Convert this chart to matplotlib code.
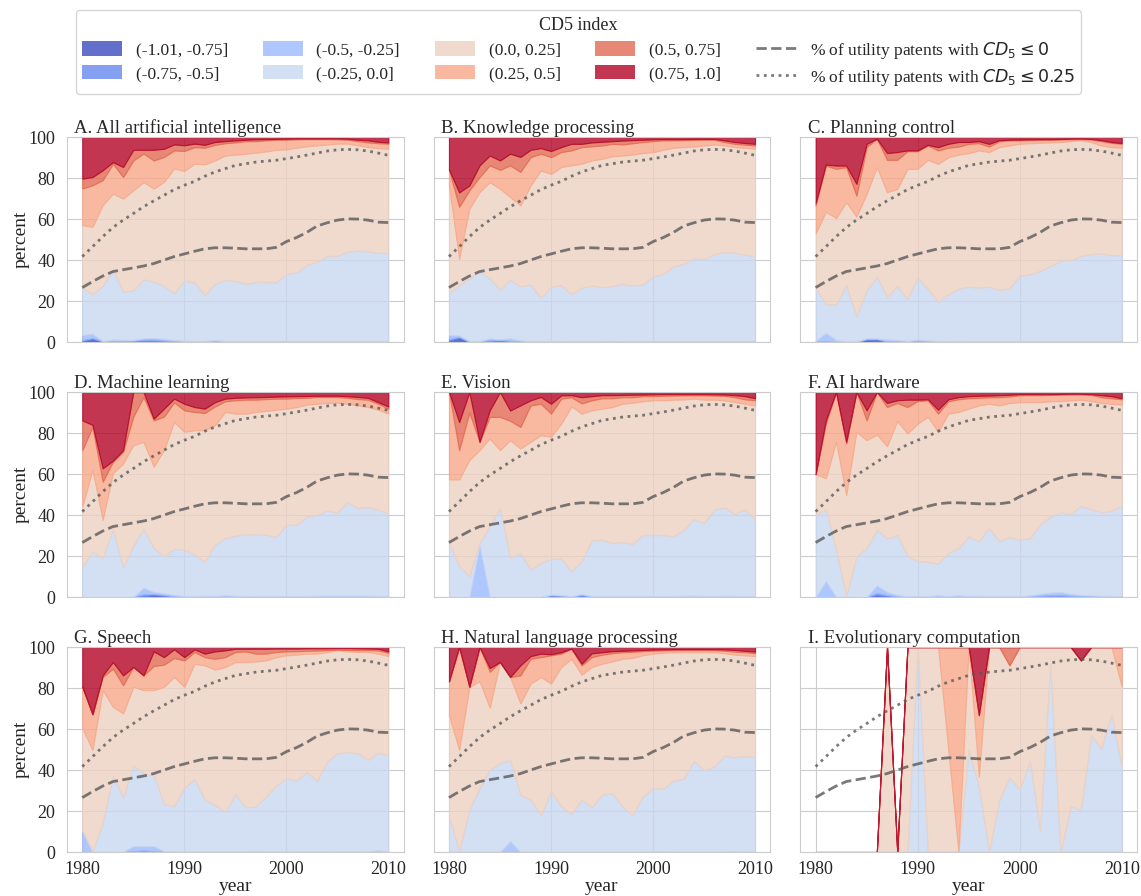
import numpy as np
import matplotlib
matplotlib.use('Agg')
import matplotlib.pyplot as plt
import matplotlib.patches as mpatches
from matplotlib.lines import Line2D
import seaborn as sns

sns.set_style('whitegrid')
plt.rcParams['font.family'] = ['Liberation Serif', 'DejaVu Serif']

years = np.arange(1980, 2011)

# share of all utility patents (same reference lines in every panel)
util_le0 = [26.6, 29.5, 32.2, 34.4, 35.3, 36.2, 37.1, 38.3, 40.0, 41.7,
            43.0, 44.3, 45.5, 46.0, 46.0, 45.8, 45.5, 45.5, 45.5, 46.2,
            49.0, 51.0, 53.5, 56.6, 58.2, 59.5, 60.1, 60.0, 59.5, 58.5, 58.3]
util_le025 = [41.7, 46.5, 51.4, 55.9, 59.5, 62.7, 66.0, 68.9, 71.6, 74.4,
              76.5, 78.4, 80.9, 83.0, 84.6, 86.2, 87.0, 87.8, 88.3, 88.7,
              89.5, 90.3, 91.2, 92.2, 93.2, 93.8, 94.0, 93.8, 93.2, 92.2, 91.1]

# cumulative percent of AI patents with CD5 <= bin upper edge
# A. All artificial intelligence
a_m075 = [0.3, 1.5, 0.2, 0, 0, 0, 0.3, 0.3, 0, 0, 0, 0, 0, 0, 0, 0, 0, 0, 0, 0, 0, 0, 0, 0, 0, 0, 0, 0, 0, 0, 0]
a_m05 = [1.0, 2.0, 0.3, 0.5, 0.5, 0.8, 1.2, 1.2, 0.8, 0.5, 0.3, 0.3, 0.3, 0.5, 0.3, 0.2, 0.2, 0.2, 0.2, 0.2,
         0.2, 0.2, 0.2, 0.2, 0.2, 0.2, 0.2, 0.2, 0.2, 0.2, 0.2]
a_m025 = [3.5, 4.0, 0.5, 1.2, 1.0, 1.0, 1.8, 2.0, 1.5, 1.0, 0.6, 0.5, 0.5, 1.0, 0.5, 0.4, 0.4, 0.4, 0.4, 0.4,
          0.4, 0.4, 0.4, 0.4, 0.4, 0.4, 0.4, 0.4, 0.4, 0.4, 0.4]
a_0 = [26.6, 23.3, 27.4, 35.5, 24.6, 25.1, 30.6, 29.5, 27.4, 23.8, 30.0, 29.0, 23.0, 28.4, 30.3, 29.7, 28.4, 29.3,
       29.3, 29.2, 33.2, 34.0, 37.6, 39.2, 42.0, 42.1, 44.1, 44.6, 44.2, 43.6, 43.3]
a_025 = [57.0, 56.2, 66.8, 72.4, 70.0, 74.0, 78.0, 74.9, 78.1, 84.6, 83.5, 87.0, 86.7, 88.6, 91.0, 91.4, 91.9, 92.4,
         93.0, 93.8, 94.0, 94.8, 95.5, 95.9, 96.4, 96.8, 96.8, 96.0, 95.1, 94.6, 94.3]
a_05 = [74.9, 76.5, 79.0, 87.0, 80.5, 88.6, 92.0, 88.6, 90.3, 93.5, 93.2, 95.1, 94.8, 96.2, 97.0, 97.4, 98.0, 98.0,
        98.4, 98.7, 98.7, 98.9, 99.0, 99.0, 99.0, 98.9, 98.7, 98.0, 97.4, 97.0, 96.8]
a_075 = [79.7, 80.5, 83.8, 87.8, 85.4, 93.8, 93.8, 93.8, 94.3, 96.4, 96.0, 96.8, 96.2, 97.6, 98.0, 98.4, 98.7, 98.9,
         99.0, 99.1, 99.2, 99.3, 99.3, 99.3, 99.3, 99.3, 99.2, 98.7, 98.4, 97.7, 97.4]

# B. Knowledge processing
b_m075 = [0.5, 2.0, 0, 0, 0, 0.5, 0, 0, 0, 0, 0, 0, 0, 0, 0, 0, 0, 0, 0, 0, 0, 0, 0, 0, 0, 0, 0, 0, 0, 0, 0]
b_m05 = [1.5, 2.5, 0.2, 0.3, 1.0, 1.2, 0.5, 0.3, 0.2, 0.2, 0.2, 0.2, 0.2, 0.2, 0.2, 0.2, 0.2, 0.2, 0.2, 0.2,
         0.2, 0.2, 0.2, 0.2, 0.2, 0.2, 0.2, 0.2, 0.2, 0.2, 0.2]
b_m025 = [3.5, 3.2, 0.5, 0.5, 1.8, 1.3, 1.8, 0.8, 0.3, 0.5, 0.5, 0.3, 0.3, 0.4, 0.4, 0.5, 0.6, 0.5, 0.4, 0.4,
          0.3, 0.3, 0.3, 0.3, 0.3, 0.3, 0.3, 0.3, 0.3, 0.3, 0.3]
b_0 = [24.0, 27.6, 31.0, 34.6, 31.0, 25.7, 30.4, 27.3, 28.0, 21.6, 27.0, 27.8, 23.3, 26.5, 27.6, 26.8, 27.3, 28.4,
       27.6, 28.0, 32.0, 33.3, 36.9, 38.2, 41.0, 40.6, 42.8, 43.9, 43.6, 42.6, 41.9]
b_025 = [76.4, 40.6, 65.0, 73.2, 78.0, 74.8, 70.7, 66.7, 76.4, 83.7, 82.0, 85.4, 86.2, 87.0, 88.6, 89.4, 90.6, 91.0,
         91.5, 92.2, 92.7, 93.8, 94.8, 95.1, 95.4, 95.9, 96.4, 95.9, 95.1, 94.8, 94.3]
b_05 = [84.0, 66.0, 74.0, 80.5, 86.2, 84.0, 86.2, 83.0, 90.2, 91.9, 90.2, 92.7, 93.5, 95.1, 95.5, 95.9, 96.7, 96.4,
        97.0, 97.6, 98.0, 98.4, 98.4, 98.5, 98.6, 98.7, 98.7, 97.6, 96.7, 96.3, 95.9]
b_075 = [84.2, 73.0, 76.4, 86.2, 91.0, 88.6, 91.9, 90.3, 93.8, 94.6, 93.2, 95.1, 96.7, 96.7, 97.4, 97.7, 98.0, 98.3,
         98.5, 98.7, 98.9, 99.0, 99.0, 99.0, 99.1, 99.1, 99.1, 98.4, 97.6, 97.1, 96.7]

# C. Planning control
c_m075 = [0, 0, 0, 0, 0, 1.0, 1.2, 0, 0, 0, 0, 0, 0, 0, 0, 0, 0, 0, 0, 0, 0, 0, 0, 0, 0, 0, 0, 0, 0, 0, 0]
c_m05 = [0.2, 0.5, 0, 0, 0, 1.5, 1.5, 0.3, 0.3, 0.2, 0.6, 0.2, 0.2, 0.2, 0.2, 0.2, 0.2, 0.2, 0.2, 0.2,
         0.2, 0.2, 0.2, 0.2, 0.2, 0.2, 0.2, 0.2, 0.2, 0.2, 0.2]
c_m025 = [0.5, 4.5, 1.0, 0.3, 0.3, 1.8, 1.8, 1.2, 1.0, 0.5, 1.2, 0.8, 0.5, 0.5, 0.4, 0.3, 0.3, 0.3, 0.3, 0.3,
          0.3, 0.3, 0.3, 0.3, 0.3, 0.3, 0.3, 0.3, 0.3, 0.3, 0.3]
c_0 = [26.4, 18.6, 18.3, 27.6, 12.7, 25.3, 31.8, 22.0, 27.4, 20.9, 31.5, 25.8, 19.7, 23.3, 26.1, 27.0, 26.6, 27.0,
       25.4, 26.2, 32.3, 33.1, 34.7, 37.2, 39.6, 40.0, 42.1, 42.9, 43.2, 42.4, 42.4]
c_025 = [53.0, 63.6, 60.5, 68.2, 61.2, 72.3, 85.3, 73.1, 74.7, 84.5, 84.5, 88.9, 86.9, 90.2, 91.4, 92.2, 93.5, 92.7,
         95.1, 95.9, 96.7, 97.0, 97.2, 97.4, 97.6, 98.0, 98.4, 97.6, 95.9, 95.1, 94.8]
c_05 = [66.6, 86.1, 84.5, 85.3, 71.4, 95.1, 99.2, 88.9, 88.9, 93.1, 93.1, 95.9, 93.5, 94.8, 95.4, 96.7, 97.0, 95.4,
        98.0, 98.4, 98.4, 98.5, 98.6, 98.7, 98.8, 98.9, 99.0, 98.8, 98.0, 97.2, 96.7]
c_075 = [67.8, 86.6, 86.1, 86.1, 77.2, 96.7, 99.2, 92.2, 92.7, 93.5, 93.5, 96.2, 95.1, 96.7, 97.6, 97.6, 98.0, 96.7,
         98.5, 98.7, 98.8, 98.9, 99.0, 99.0, 99.1, 99.2, 99.3, 99.1, 98.5, 97.6, 97.1]

# D. Machine learning
d_m075 = [0, 0, 0, 0, 0, 0, 0.3, 1.0, 0.5, 0, 0, 0, 0, 0, 0, 0, 0, 0, 0, 0, 0, 0, 0, 0, 0, 0, 0, 0, 0, 0, 0]
d_m05 = [0, 0, 0, 0, 0, 0, 1.5, 1.5, 1.0, 0.3, 0.2, 0.3, 0.3, 0.2, 0.4, 0.3, 0.2, 0.2, 0.2, 0.2,
         0.2, 0.2, 0.2, 0.2, 0.2, 0.2, 0.2, 0.2, 0.2, 0.2, 0.2]
d_m025 = [0, 0, 0, 0, 0, 0, 4.5, 2.5, 1.8, 1.0, 0.5, 0.5, 0.6, 0.5, 0.8, 0.6, 0.5, 0.5, 0.4, 0.4,
          0.5, 0.5, 0.5, 0.6, 0.6, 0.6, 0.6, 0.6, 0.6, 0.5, 0.5]
d_0 = [14.6, 22.3, 19.1, 33.2, 14.6, 25.1, 33.3, 23.9, 19.9, 23.5, 23.1, 20.7, 17.2, 25.6, 28.8, 29.9, 30.7, 30.7,
       30.4, 29.3, 35.3, 35.3, 39.3, 40.1, 42.2, 41.3, 46.3, 43.4, 43.9, 42.6, 40.9]
d_025 = [44.2, 62.0, 37.7, 60.4, 65.2, 74.1, 75.7, 63.6, 71.7, 85.4, 80.6, 81.4, 81.4, 83.8, 90.3, 89.5, 89.5, 90.3,
         90.8, 91.4, 91.9, 92.7, 93.9, 94.3, 94.7, 94.8, 94.3, 93.5, 92.7, 91.4, 89.5]
d_05 = [71.7, 83.0, 56.3, 66.0, 70.9, 88.0, 97.6, 86.2, 88.0, 95.0, 91.1, 90.3, 89.8, 93.0, 95.5, 96.0, 96.3, 96.3,
        96.6, 96.8, 96.8, 97.1, 97.2, 97.6, 97.6, 97.6, 97.2, 96.6, 96.3, 94.3, 91.9]
d_075 = [86.2, 84.0, 62.8, 66.5, 71.7, 100.0, 100.0, 87.0, 91.9, 96.8, 94.3, 92.7, 91.9, 95.1, 96.8, 97.2, 97.4,
         97.5, 97.6, 97.8, 97.9, 98.0, 98.1, 98.2, 98.2, 98.2, 98.0, 97.6, 97.2, 95.1, 93.0]

# E. Vision
e_m075 = [0, 0, 0, 0, 0, 0, 0, 0, 0, 0, 0.5, 0.3, 0, 0.5, 0, 0, 0, 0, 0, 0, 0, 0, 0, 0, 0, 0, 0, 0, 0, 0, 0]
e_m05 = [0, 0, 0, 0, 0, 0, 0, 0, 0, 0, 1.0, 0.6, 0.2, 1.0, 0.3, 0.3, 0.2, 0.2, 0.2, 0.2,
         0.2, 0.2, 0.2, 0.2, 0.2, 0.2, 0.2, 0.2, 0.2, 0.2, 0.2]
e_m025 = [0, 0, 0, 25.0, 0, 0, 0, 0, 0, 0, 1.2, 1.0, 0.4, 1.5, 0.5, 0.4, 0.4, 0.4, 0.4, 0.4,
          0.5, 0.5, 0.5, 0.6, 0.6, 0.5, 0.5, 0.6, 0.5, 0.5, 0.5]
e_0 = [26.7, 15.0, 10.2, 26.4, 34.5, 43.4, 19.1, 21.5, 13.4, 16.7, 18.6, 18.8, 12.6, 17.5, 27.7, 28.0, 26.4, 26.9,
       25.9, 30.3, 30.3, 30.3, 29.6, 32.8, 38.0, 36.1, 42.6, 43.7, 40.5, 42.9, 37.7]
e_025 = [57.4, 57.4, 66.8, 71.7, 77.3, 71.7, 76.5, 72.5, 75.7, 79.0, 78.2, 84.6, 93.0, 89.5, 91.1, 91.9, 92.7, 94.3,
         94.8, 95.5, 96.0, 96.0, 96.3, 96.4, 96.8, 96.3, 96.3, 96.0, 95.1, 94.3, 93.5]
e_05 = [100.0, 71.7, 90.0, 75.7, 87.9, 87.9, 86.0, 83.0, 93.5, 94.3, 89.5, 96.8, 97.5, 94.5, 96.0, 97.0, 97.0, 97.5,
        97.5, 98.0, 98.0, 98.2, 98.3, 98.4, 98.4, 98.4, 98.3, 98.2, 97.5, 96.5, 96.0]
e_075 = [100.0, 85.4, 100.0, 75.7, 91.1, 100.0, 91.0, 93.5, 96.0, 97.6, 94.3, 98.4, 98.5, 97.5, 98.0, 98.5, 98.5,
         98.6, 98.7, 98.8, 98.9, 99.0, 99.0, 99.0, 99.0, 99.0, 98.9, 98.8, 98.5, 98.0, 97.0]

# F. AI hardware
f_m075 = [0, 0, 0, 0, 0, 0, 0.8, 0.3, 0, 0, 0, 0, 0, 0, 0, 0, 0, 0, 0, 0, 0, 0, 0, 0, 0, 0, 0, 0, 0, 0, 0]
f_m05 = [0, 0, 0, 0, 0, 0, 2.0, 1.0, 0.2, 0, 0.2, 0.2, 0.3, 0.2, 0.3, 0.2, 0.2, 0.2, 0.2, 0.2,
         0.2, 0.3, 0.6, 1.0, 1.0, 0.6, 0.4, 0.3, 0.2, 0.2, 0.2]
f_m025 = [0, 7.8, 0, 0, 0, 0, 5.7, 2.5, 1.0, 0.3, 0.5, 0.5, 0.8, 0.5, 0.8, 0.5, 0.6, 0.4, 0.4, 0.3,
          0.3, 0.8, 1.5, 2.2, 2.5, 1.5, 1.0, 0.8, 0.6, 0.5, 0.5]
f_0 = [40.1, 42.9, 23.1, 0.5, 19.9, 23.9, 32.8, 28.5, 30.4, 19.9, 17.5, 17.2, 16.3, 21.5, 23.9, 29.6, 27.2, 33.7,
       27.2, 29.3, 28.0, 28.8, 35.3, 39.3, 41.3, 40.6, 44.5, 42.9, 41.3, 42.1, 44.5]
f_025 = [59.9, 58.0, 75.7, 49.8, 80.6, 76.5, 79.3, 73.6, 85.9, 79.8, 84.6, 87.9, 80.6, 89.5, 90.3, 91.9, 93.5, 94.3,
         93.5, 94.7, 95.1, 95.1, 95.1, 95.5, 95.6, 96.0, 96.3, 95.6, 94.7, 94.3, 93.9]
f_05 = [59.9, 84.6, 100.0, 74.9, 100.0, 86.2, 100.0, 92.7, 94.7, 92.7, 95.6, 96.0, 89.5, 95.5, 96.5, 97.0, 97.2,
        97.4, 97.5, 97.8, 98.5, 98.5, 98.5, 98.6, 98.7, 98.8, 98.8, 98.6, 97.5, 97.0, 96.5]
f_075 = [59.9, 86.2, 100.0, 75.7, 100.0, 91.1, 100.0, 94.7, 96.0, 96.3, 96.3, 96.5, 91.4, 96.5, 97.5, 98.0, 98.2,
         98.3, 98.5, 98.7, 99.0, 99.0, 99.0, 99.0, 99.1, 99.2, 99.2, 99.0, 98.5, 98.0, 97.0]

# G. Speech
g_m075 = [0, 0, 0, 0, 0, 0, 0, 0, 0, 0, 0, 0, 0, 0, 0, 0, 0, 0, 0, 0, 0, 0, 0, 0, 0, 0, 0, 0, 0, 0, 0]
g_m05 = [0, 0, 0, 0, 0, 0.5, 0.8, 0.5, 0, 0, 0, 0, 0, 0, 0, 0, 0, 0, 0, 0, 0, 0, 0, 0, 0, 0, 0, 0, 0, 0, 0]
g_m025 = [10.5, 0, 0, 0, 0, 2.9, 2.9, 2.9, 0.5, 0.3, 0.3, 0.3, 0.2, 0.2, 0.2, 0.2, 0.3, 0.6, 0.3, 0.2,
          0.3, 0.3, 0.2, 0.2, 0.3, 0.3, 0.2, 0.3, 0.3, 0.8, 0.3]
g_0 = [10.7, 0.5, 14.2, 37.2, 26.7, 42.2, 38.5, 37.7, 23.5, 22.3, 31.6, 35.6, 25.6, 23.1, 19.6, 28.3, 21.8, 22.3,
       27.2, 32.4, 36.1, 35.0, 39.0, 34.8, 44.2, 48.2, 48.7, 48.2, 45.0, 48.5, 47.4]
g_025 = [60.4, 49.8, 79.0, 70.9, 67.6, 80.6, 79.0, 79.0, 80.6, 85.4, 80.6, 91.9, 91.1, 89.0, 90.3, 92.7, 92.7, 93.0,
         93.5, 95.1, 96.0, 96.3, 96.8, 96.8, 97.6, 98.4, 97.9, 97.6, 97.6, 96.8, 95.6]
g_05 = [80.6, 67.2, 85.4, 89.5, 81.4, 90.3, 86.2, 90.8, 91.4, 94.7, 93.5, 97.6, 95.1, 94.3, 95.1, 97.6, 97.9, 96.8,
        96.8, 97.6, 97.9, 98.0, 98.2, 98.3, 98.5, 98.8, 98.6, 98.5, 98.5, 98.4, 97.2]
g_075 = [80.6, 67.2, 86.2, 92.7, 86.2, 90.3, 86.2, 97.9, 95.1, 98.9, 95.1, 98.9, 96.8, 97.9, 98.4, 99.2, 99.2, 99.2,
         99.2, 99.3, 99.3, 99.3, 99.4, 99.4, 99.4, 99.5, 99.5, 99.4, 99.3, 99.2, 97.9]

# H. Natural language processing
h_m075 = [0, 0, 0, 0, 0, 0, 0, 0, 0, 0, 0, 0, 0, 0, 0, 0, 0, 0, 0, 0, 0, 0, 0, 0, 0, 0, 0, 0, 0, 0, 0]
h_m05 = [0, 0, 0, 0, 0, 0, 0, 0, 0, 0, 0, 0, 0, 0, 0, 0, 0, 0, 0, 0, 0, 0, 0, 0, 0, 0, 0, 0, 0, 0, 0]
h_m025 = [0, 0, 0, 0, 0, 0, 5.3, 0, 0, 0, 0, 0, 0, 0, 0, 0, 0, 0, 0, 0, 0.3, 0.3, 0, 0, 0, 0, 0, 0, 0.5, 0, 0]
h_0 = [17.5, 0.5, 20.7, 31.2, 40.1, 43.4, 45.0, 28.0, 25.6, 18.0, 29.6, 22.3, 18.6, 25.6, 21.8, 28.0, 28.8, 22.3,
       18.0, 27.2, 31.2, 30.9, 34.8, 35.8, 44.5, 40.1, 41.7, 47.1, 46.3, 46.9, 46.3]
h_025 = [66.8, 49.8, 80.6, 83.3, 70.4, 92.7, 85.4, 72.5, 82.2, 85.4, 82.2, 90.3, 94.3, 86.6, 90.3, 91.9, 93.0, 94.3,
         94.7, 96.0, 96.8, 97.2, 97.5, 97.6, 97.6, 97.6, 97.5, 97.0, 96.3, 96.0, 95.6]
h_05 = [83.0, 100.0, 80.6, 100.0, 88.0, 92.7, 85.4, 86.2, 94.3, 95.1, 96.0, 96.8, 99.2, 91.1, 95.1, 96.3, 97.0,
        97.5, 97.7, 98.0, 98.2, 98.4, 98.5, 98.6, 98.6, 98.6, 98.5, 98.2, 97.8, 97.5, 97.0]
h_075 = [83.3, 100.0, 80.6, 100.0, 89.8, 92.7, 85.4, 91.1, 95.6, 96.8, 96.5, 97.5, 99.3, 91.9, 97.0, 97.5, 98.0,
         98.2, 98.4, 98.6, 98.8, 98.9, 99.0, 99.0, 99.0, 99.0, 99.0, 98.9, 98.6, 98.2, 97.8]

# I. Evolutionary computation (years with no patents have total 0)
i_m075 = [0, 0, 0, 0, 0, 0, 0, 0, 0, 0, 0, 0, 0, 0, 0, 0, 0, 0, 0, 0, 0, 0, 0, 0, 0, 0, 0, 0, 0, 0, 0]
i_m05 = [0, 0, 0, 0, 0, 0, 0, 0, 0, 0, 0, 0, 0, 0, 0, 0, 0, 0, 0, 0, 0, 0, 0, 0, 0, 0, 0, 0, 0, 0, 0]
i_m025 = [0, 0, 0, 0, 0, 0, 0, 0, 0, 0, 0, 0, 0, 0, 0, 0, 0, 0, 0, 0, 0, 0, 0, 0, 0, 0, 0, 0, 0, 0, 0]
i_0 = [0, 0, 0, 0, 0, 0, 0, 0, 0, 0, 100.0, 0, 0, 0, 0, 49.8, 32.0, 0, 25.4, 36.5,
       30.6, 44.6, 10.5, 91.9, 0, 22.2, 20.6, 57.0, 50.6, 67.1, 41.7]
i_025 = [0, 0, 0, 0, 0, 0, 0, 100.0, 0, 100.0, 100.0, 100.0, 100.0, 50.0, 0, 100.0, 36.8, 100.0, 100.0, 91.1,
         100.0, 100.0, 100.0, 100.0, 100.0, 100.0, 93.5, 100.0, 100.0, 100.0, 80.7]
i_05 = [0, 0, 0, 0, 0, 0, 0, 100.0, 0, 100.0, 100.0, 100.0, 100.0, 100.0, 100.0, 100.0, 66.8, 100.0, 100.0, 91.1,
        100.0, 100.0, 100.0, 100.0, 100.0, 100.0, 93.5, 100.0, 100.0, 100.0, 100.0]
i_075 = [0, 0, 0, 0, 0, 0, 0, 100.0, 0, 100.0, 100.0, 100.0, 100.0, 100.0, 100.0, 100.0, 66.8, 100.0, 100.0, 100.0,
         100.0, 100.0, 100.0, 100.0, 100.0, 100.0, 93.5, 100.0, 100.0, 100.0, 100.0]
i_total = [0, 0, 0, 0, 0, 0, 0, 100.0, 0, 100.0, 100.0, 100.0, 100.0, 100.0, 100.0, 100.0, 100.0, 100.0, 100.0,
           100.0, 100.0, 100.0, 100.0, 100.0, 100.0, 100.0, 100.0, 100.0, 100.0, 100.0, 100.0]

bin_labels = ['(-1.01, -0.75]', '(-0.75, -0.5]', '(-0.5, -0.25]', '(-0.25, 0.0]',
              '(0.0, 0.25]', '(0.25, 0.5]', '(0.5, 0.75]', '(0.75, 1.0]']
titles = ['A. All artificial intelligence', 'B. Knowledge processing', 'C. Planning control',
          'D. Machine learning', 'E. Vision', 'F. AI hardware',
          'G. Speech', 'H. Natural language processing', 'I. Evolutionary computation']

panels = [
    [a_m075, a_m05, a_m025, a_0, a_025, a_05, a_075, None],
    [b_m075, b_m05, b_m025, b_0, b_025, b_05, b_075, None],
    [c_m075, c_m05, c_m025, c_0, c_025, c_05, c_075, None],
    [d_m075, d_m05, d_m025, d_0, d_025, d_05, d_075, None],
    [e_m075, e_m05, e_m025, e_0, e_025, e_05, e_075, None],
    [f_m075, f_m05, f_m025, f_0, f_025, f_05, f_075, None],
    [g_m075, g_m05, g_m025, g_0, g_025, g_05, g_075, None],
    [h_m075, h_m05, h_m025, h_0, h_025, h_05, h_075, None],
    [i_m075, i_m05, i_m025, i_0, i_025, i_05, i_075, i_total],
]

colors = plt.cm.coolwarm(np.linspace(0, 1, 8))
line_col = '0.35'

fig, axes = plt.subplots(3, 3, figsize=(11.41, 8.96), dpi=100, sharex=True, sharey=True)
fig.subplots_adjust(left=0.0587, right=0.9965, bottom=0.049, top=0.847, wspace=0.089, hspace=0.244)

for k, ax in enumerate(axes.flat):
    cols = panels[k]
    total = cols[7] if cols[7] is not None else [100.0] * len(years)
    cum = np.vstack([np.zeros(len(years))] + [np.array(c, dtype=float) for c in cols[:7]] +
                    [np.array(total, dtype=float)])
    shares = np.diff(cum, axis=0)
    polys = ax.stackplot(years, shares, colors=colors, alpha=0.8, linewidth=0.8)
    for p in polys:
        p.set_edgecolor(p.get_facecolor())
    ax.plot(years, util_le0, ls='--', color=line_col, alpha=0.8, lw=2)
    ax.plot(years, util_le025, ls=':', color=line_col, alpha=0.8, lw=2)
    ax.set_ylim(0, 100)
    ax.set_title(titles[k], loc='left', fontsize=13.5, pad=3, x=0.022)
    ax.tick_params(axis='y', labelsize=13, pad=5)
    ax.tick_params(axis='x', labelsize=13, pad=3)

for r in range(3):
    axes[r, 0].set_ylabel('percent', fontsize=14, labelpad=-1)
for c in range(3):
    axes[2, c].set_xlabel('year', fontsize=14, labelpad=0)

handles = [mpatches.Patch(facecolor=col, alpha=0.8, edgecolor='none', label=lab)
           for col, lab in zip(colors, bin_labels)]
handles.append(Line2D([], [], ls='--', color=line_col, alpha=0.8, lw=2,
                      label='% of utility patents with $CD_5 \\leq 0$'))
handles.append(Line2D([], [], ls=':', color=line_col, alpha=0.8, lw=2,
                      label='% of utility patents with $CD_5 \\leq 0.25$'))
fig.legend(handles=handles, loc='upper center', bbox_to_anchor=(0.507, 0.998), ncol=5,
           title='CD5 index', fontsize=12.5, title_fontsize=13, handlelength=2.3, handleheight=0.9,
           labelspacing=0.35, columnspacing=2.0, borderpad=0.35, frameon=True)

fig.savefig('out.png', dpi=100)
